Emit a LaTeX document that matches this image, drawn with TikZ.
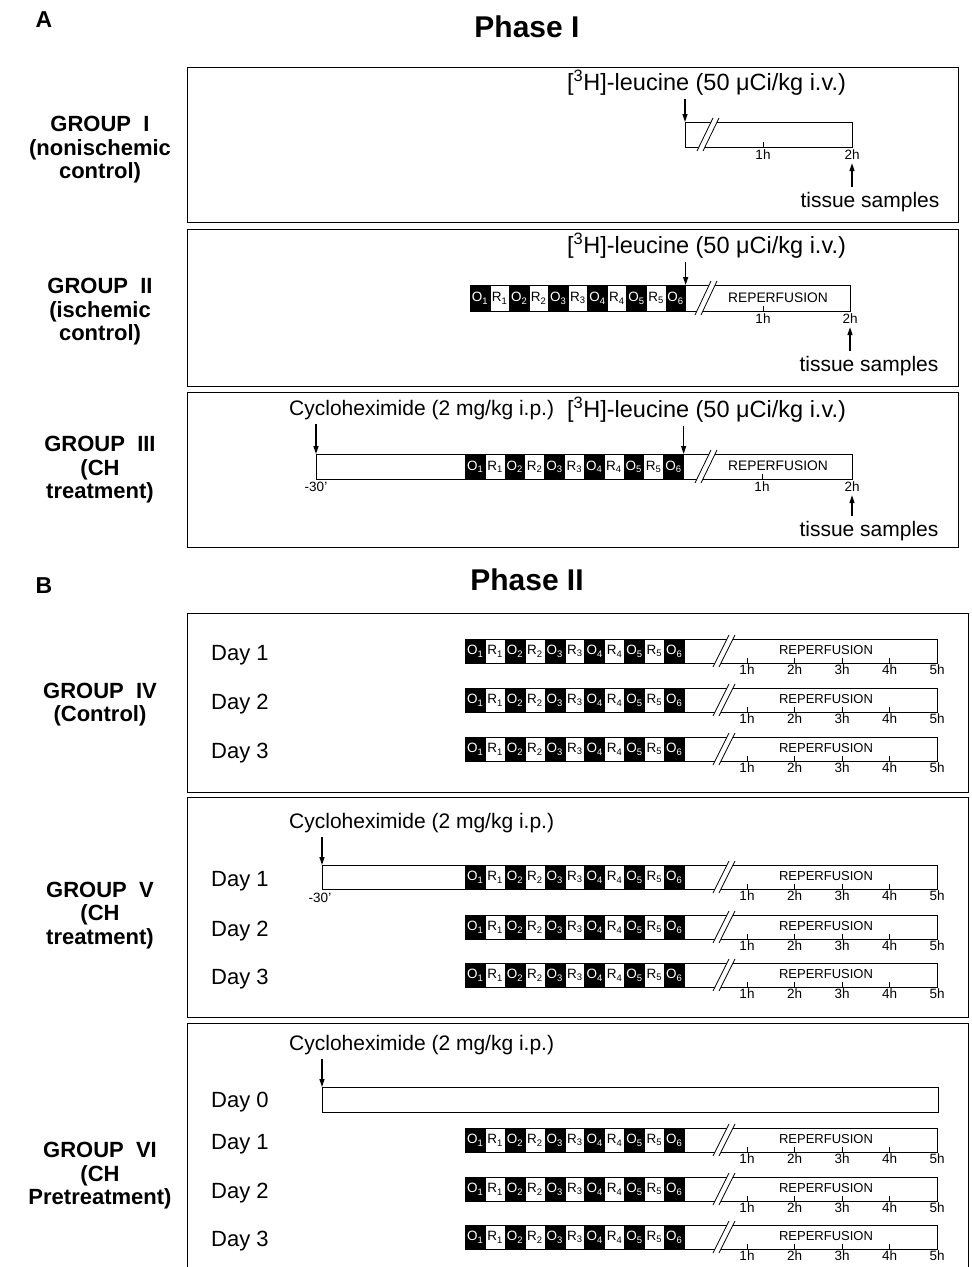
\documentclass[tikz,border=0pt]{standalone}
\usepackage{fontspec}
\setmainfont{Liberation Sans}
\usetikzlibrary{arrows.meta}
\tikzset{
  frame/.style={draw, line width=0.9pt},
  bar/.style={draw, line width=1pt, fill=white, inner sep=0pt, anchor=north west},
  ocell/.style={fill=black, draw=black, line width=0.6pt, text=white, inner sep=0pt, anchor=north west, font=\fontsize{13.5}{13.5}\selectfont},
  rcell/.style={fill=white, draw=black, line width=0.6pt, text=black, inner sep=0pt, anchor=north west, font=\fontsize{13.5}{13.5}\selectfont},
  arr/.style={-{Triangle[length=8pt,width=5pt]}, line width=1.2pt},
  lab/.style={font=\fontsize{21}{24}\selectfont, inner sep=0pt},
  leu/.style={font=\fontsize{23.5}{24}\selectfont, inner sep=0pt},
  grp/.style={font=\bfseries\fontsize{22}{23.5}\selectfont, align=center, inner sep=0pt},
  tl/.style={font=\fontsize{13.5}{13.5}\selectfont, inner sep=0pt, anchor=north},
  rep/.style={font=\fontsize{13}{13}\selectfont, inner sep=0pt},
  replarge/.style={font=\fontsize{13.8}{13.8}\selectfont, inner sep=0pt},
  day/.style={font=\fontsize{22}{22}\selectfont, inner sep=0pt, anchor=west},
  ttl/.style={font=\bfseries\fontsize{30}{30}\selectfont, inner sep=0pt},
  letter/.style={font=\bfseries\fontsize{23}{23}\selectfont, inner sep=0pt},
  tk/.style={line width=0.8pt},
}
% #1 prefix, #2 x0, #3 ytop, #4 cell width, #5 height
\newcommand{\ORcells}[5]{%
  \foreach \i in {1,...,6}{%
    \node[ocell, minimum width=#4pt, minimum height=#5pt] (#1o\i) at ({#2+(2*\i-2)*#4}, #3) {O\textsubscript{\i}};
  }
  \foreach \i in {1,...,5}{%
    \node[rcell, minimum width=#4pt, minimum height=#5pt] (#1r\i) at ({#2+(2*\i-1)*#4}, #3) {R\textsubscript{\i}};
  }
}
% break mark: #1 x at bottom, #2 ytop, #3 ybottom
\newcommand{\brk}[3]{%
  \fill[white] (#1, #3+4) -- (#1+16, #2-4) -- (#1+22, #2-4) -- (#1+6, #3+4) -- cycle;
  \draw[line width=0.8pt] (#1, #3+4) -- (#1+16, #2-4);
  \draw[line width=0.8pt] (#1+6, #3+4) -- (#1+22, #2-4);
}
% Phase II row: #1 prefix, #2 bar start x, #3 ytop, #4 day label
\newcommand{\dayrow}[4]{%
  \node[bar, minimum width=937pt-#2pt, minimum height=24pt] (#1bar) at (#2,#3) {};
  \ORcells{#1}{465}{#3}{19.9}{24}
  \brk{713}{#3}{#3+24}
  \foreach \k in {1,...,5}{%
    \draw[tk] ({747+(\k-1)*47.5}, #3+24) -- ({747+(\k-1)*47.5}, #3+19);
    \node[tl] (#1t\k) at ({747+(\k-1)*47.5}, #3+26) {\k h};
  }
  \node[rep] (#1rep) at (826, #3+11) {REPERFUSION};
  \node[day] (#1day) at (211, #3+16) {#4};
}
\begin{document}
\begin{tikzpicture}[x=1pt,y=-1pt]
\useasboundingbox (0,0) rectangle (972,1267);

% ---------- Phase I ----------
\node[letter] (A) at (44,20) {A};
\node[ttl] (ph1) at (527,27) {Phase I};

\draw[frame] (187,67) rectangle (958,222);
\draw[frame] (187,229) rectangle (958,386);
\draw[frame] (187,392) rectangle (958,547);

% Group I
\node[grp] (gI) at (100,150) {GROUP\ \ I\\(nonischemic\\control)};
\node[bar, minimum width=167pt, minimum height=25pt] (g1bar) at (685,122) {};
\brk{697}{122}{147}
\draw[tk] (763,147) -- (763,142);
\node[tl] (g1t1) at (763,150) {1h};
\node[tl] (g1t2) at (852,150) {2h};
\node[leu, anchor=west] (g1leu) at (567,83) {[\textsuperscript{3}H]-leucine (50 μCi/kg i.v.)};
\draw[arr, shorten <=3pt] (g1leu.south -| g1bar.north west) -- (g1bar.north west);
\node[lab] (g1ts) at (870,202) {tissue samples};
\draw[arr, shorten <=5pt, shorten >=3pt] (g1ts.north -| g1t2.south) -- (g1t2.south);

% Group II
\node[grp] (gII) at (100,312) {GROUP\ \ II\\(ischemic\\control)};
\node[bar, minimum width=380pt, minimum height=26pt] (g2bar) at (470,285) {};
\ORcells{g2}{470}{285}{19.55}{26}
\brk{695}{285}{311}
\node[replarge] (g2rep) at (778,298) {REPERFUSION};
\draw[tk] (763,311) -- (763,306);
\node[tl] (g2t1) at (763,314) {1h};
\node[tl] (g2t2) at (850,314) {2h};
\node[leu, anchor=west] (g2leu) at (567,246) {[\textsuperscript{3}H]-leucine (50 μCi/kg i.v.)};
\draw[arr, shorten <=3pt] (g2leu.south -| g2o6.north east) -- (g2o6.north east);
\node[lab] (g2ts) at (869,366) {tissue samples};
\draw[arr, shorten <=5pt, shorten >=3pt] (g2ts.north -| g2t2.south) -- (g2t2.south);

% Group III
\node[grp] (gIII) at (100,470) {GROUP\ \ III\\(CH\\treatment)};
\node[bar, minimum width=536pt, minimum height=25pt] (g3bar) at (316,454) {};
\ORcells{g3}{465}{454}{19.82}{25}
\brk{695}{454}{479}
\node[replarge] (g3rep) at (778,466) {REPERFUSION};
\draw[tk] (762,479) -- (762,474);
\node[tl] (g3t1) at (762,482) {1h};
\node[tl] (g3t2) at (852,482) {2h};
\node[tl] (g3m30) at (316,482) {-30'};
\node[lab, anchor=west] (g3cy) at (289,410) {Cycloheximide (2 mg/kg i.p.)};
\draw[arr, shorten <=4pt] (g3cy.south -| g3bar.north west) -- (g3bar.north west);
\node[leu, anchor=west] (g3leu) at (567,410) {[\textsuperscript{3}H]-leucine (50 μCi/kg i.v.)};
\draw[arr, shorten <=3pt] (g3leu.south -| g3o6.north east) -- (g3o6.north east);
\node[lab] (g3ts) at (869,531) {tissue samples};
\draw[arr, shorten <=5pt, shorten >=3pt] (g3ts.north -| g3t2.south) -- (g3t2.south);

% ---------- Phase II ----------
\node[letter] (B) at (44,586) {B};
\node[ttl] (ph2) at (527,580) {Phase II};

\draw[frame] (187,613) rectangle (968,792);
\draw[frame] (187,797) rectangle (968,1017);
\draw[frame] (187,1023) rectangle (968,1270);

% Group IV
\node[grp] (gIV) at (100,704.5) {GROUP\ \ IV\\(Control)};
\dayrow{g4a}{465}{639}{Day 1}
\dayrow{g4b}{465}{688}{Day 2}
\dayrow{g4c}{465}{737}{Day 3}

% Group V
\node[grp] (gV) at (100,915.5) {GROUP\ \ V\\(CH\\treatment)};
\dayrow{g5a}{322}{865}{Day 1}
\dayrow{g5b}{465}{915}{Day 2}
\dayrow{g5c}{465}{963}{Day 3}
\node[tl] (g5m30) at (320,893) {-30'};
\node[lab, anchor=west] (g5cy) at (289,823) {Cycloheximide (2 mg/kg i.p.)};
\draw[arr, shorten <=4pt] (g5cy.south -| g5abar.north west) -- (g5abar.north west);

% Group VI
\node[grp] (gVI) at (100,1176) {GROUP\ \ VI\\(CH\\Pretreatment)};
\node[bar, minimum width=616pt, minimum height=25pt] (g6zbar) at (322,1087) {};
\node[day] (g6zday) at (211,1102) {Day 0};
\node[lab, anchor=west] (g6cy) at (289,1045) {Cycloheximide (2 mg/kg i.p.)};
\draw[arr, shorten <=4pt] (g6cy.south -| g6zbar.north west) -- (g6zbar.north west);
\dayrow{g6a}{465}{1128}{Day 1}
\dayrow{g6b}{465}{1177}{Day 2}
\dayrow{g6c}{465}{1225}{Day 3}
\end{tikzpicture}
\end{document}
